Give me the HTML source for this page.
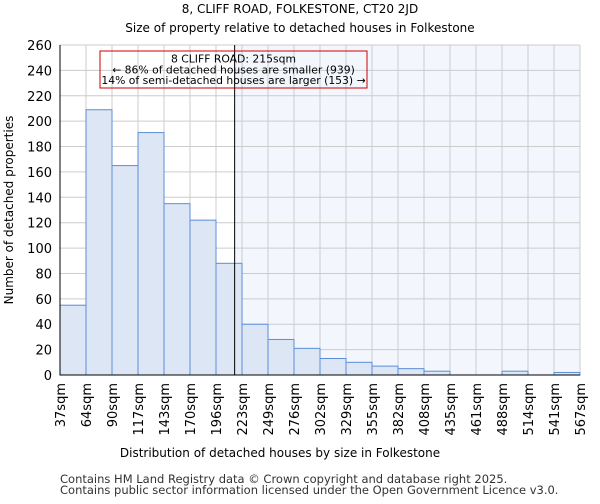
<!DOCTYPE html>
<html><head><meta charset="utf-8"><style>
body{margin:0;background:#fff;font-family:"DejaVu Sans","Liberation Sans",sans-serif;}
</style></head><body>
<svg id="chart" width="600" height="500" xmlns="http://www.w3.org/2000/svg" font-family="DejaVu Sans, Liberation Sans, sans-serif">
<text x="300" y="13" text-anchor="middle" font-size="12">8, CLIFF ROAD, FOLKESTONE, CT20 2JD</text>
<text x="300" y="32" text-anchor="middle" font-size="12">Size of property relative to detached houses in Folkestone</text>
<g id="shade"></g><g id="grid"></g><g id="bars"></g><g id="axes"></g>
<text x="280" y="457" text-anchor="middle" font-size="12">Distribution of detached houses by size in Folkestone</text>
<text transform="translate(13,210) rotate(-90)" text-anchor="middle" font-size="12">Number of detached properties</text>
<text x="60" y="483" font-size="11.5" fill="#333">Contains HM Land Registry data © Crown copyright and database right 2025.</text>
<text x="60" y="494" font-size="11.5" fill="#333">Contains public sector information licensed under the Open Government Licence v3.0.</text>
</svg>
<script>
const categories=["37sqm","64sqm","90sqm","117sqm","143sqm","170sqm","196sqm","223sqm","249sqm","276sqm","302sqm","329sqm","355sqm","382sqm","408sqm","435sqm","461sqm","488sqm","514sqm","541sqm","567sqm"];
const counts=[55,209,165,191,135,122,88,40,28,21,13,10,7,5,3,0,0,3,0,2];
const yTicks=[0,20,40,60,80,100,120,140,160,180,200,220,240,260];
const binStart=37, binEnd=567, propertySize=215;
const NS="http://www.w3.org/2000/svg";
const X0=60,X1=580,Y0=375,Y1=45;
const xs=v=>X0+(v-binStart)/(binEnd-binStart)*(X1-X0);
const ys=v=>Y0-v/260*(Y0-Y1);
const bw=(X1-X0)/counts.length;
function mk(p,t,a){const e=document.createElementNS(NS,t);for(const k in a)e.setAttribute(k,a[k]);document.getElementById(p).appendChild(e);return e;}
const lx=xs(propertySize);
let s=mk("shade","rect",{x:lx,y:Y1,width:X1-lx,height:Y0-Y1,fill:"#f3f6fc"});


for(let i=0;i<=counts.length;i++){const g=mk("grid","line",{x1:X0+i*bw,x2:X0+i*bw,y1:Y1,y2:Y0,stroke:"#cccccc","stroke-width":1});

}
yTicks.forEach(v=>{const g=mk("grid","line",{x1:X0,x2:X1,y1:ys(v),y2:ys(v),stroke:"#cccccc","stroke-width":1});


const t=mk("axes","text",{x:X0-8,y:ys(v)+5,"text-anchor":"end","font-size":13});t.textContent=v;

});
counts.forEach((c,i)=>{if(c<=0)return;const r=mk("bars","rect",{x:X0+i*bw,y:ys(c),width:bw,height:Y0-ys(c),fill:"#dce6f4",stroke:"#5b8ed6","stroke-width":1});

});
categories.forEach((c,i)=>{const x=X0+i*bw;const t=mk("axes","text",{x:0,y:0,"text-anchor":"end","font-size":13,transform:`translate(${x+5},${Y0+8}) rotate(-90)`});t.textContent=c;

});
const ax=mk("axes","path",{d:`M${X0},${Y1}V${Y0}H${X1}`,fill:"none",stroke:"#000","stroke-width":1});


const pl=mk("axes","line",{x1:lx,x2:lx,y1:Y1,y2:Y0,stroke:"#000","stroke-width":1});


const box=mk("axes","rect",{x:100,y:51,width:267,height:37,fill:"none",stroke:"#cc0000","stroke-width":1});


["8 CLIFF ROAD: 215sqm","← 86% of detached houses are smaller (939)","14% of semi-detached houses are larger (153) →"].forEach((l,i)=>{const t=mk("axes","text",{x:233.5,y:62.5+i*10.8,"text-anchor":"middle","font-size":10.8});t.textContent=l;

});
</script>
</body></html>
